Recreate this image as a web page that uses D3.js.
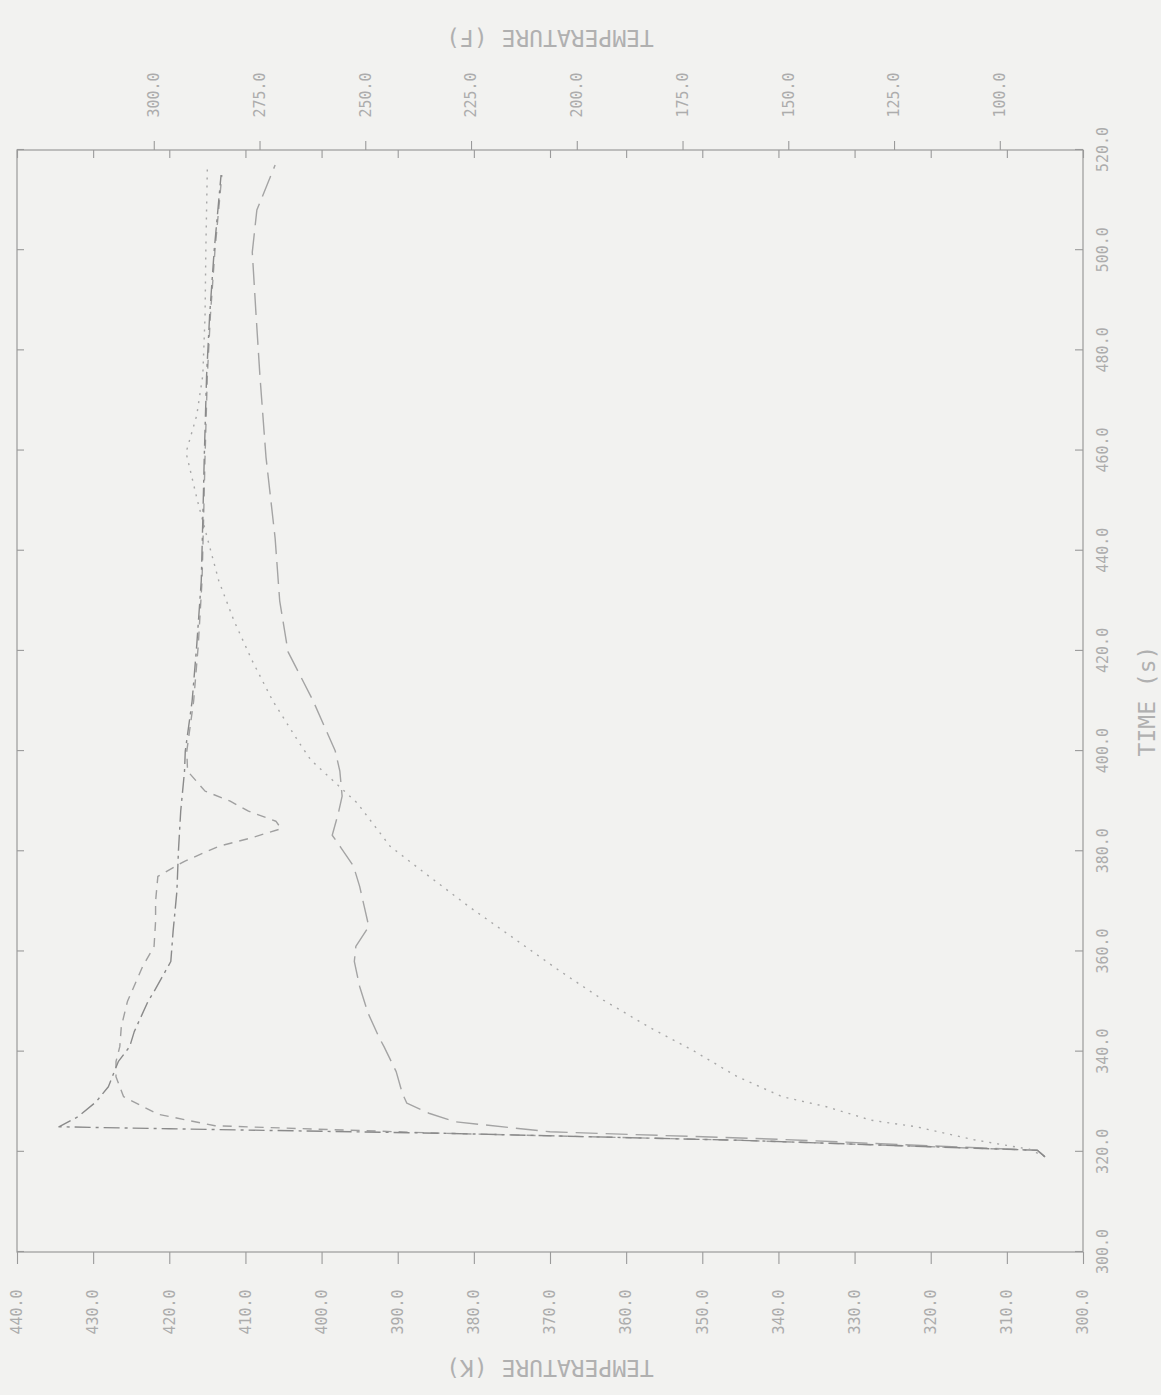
<!DOCTYPE html>
<html>
<head>
<meta charset="utf-8">
<script src="https://cdn.jsdelivr.net/npm/d3@7"></script>
<style>
html, body { margin: 0; padding: 0; background: #f2f2f0; }
svg { display: block; }
.axis text { font-family: "DejaVu Sans Mono", monospace; font-size: 15px; fill: #acacac; }
.axis line { stroke: #9a9a9a; stroke-width: 1.1; }
.axis path { display: none; }
.title { font-family: "DejaVu Sans Mono", monospace; font-size: 23px; fill: #b0b0b0; }
.frame { fill: none; stroke: #9a9a9a; stroke-width: 1.2; }
.series { fill: none; stroke-width: 1.4; stroke-linejoin: round; }
</style>
</head>
<body>
<div id="chart"></div>
<script>
// tick labels
var timeTicks = [300, 320, 340, 360, 380, 400, 420, 440, 460, 480, 500, 520];
var kelvinTicks = [300, 310, 320, 330, 340, 350, 360, 370, 380, 390, 400, 410, 420, 430, 440];
var fahrenheitTicks = [100, 125, 150, 175, 200, 225, 250, 275, 300];

// dash-dot curve
var dashDotTime = [319, 320.3, 322.3, 323.7, 324.6, 325, 327, 330, 333, 338, 341, 344, 350, 352, 358, 364, 372, 380, 388, 396, 400, 410, 421, 434, 446, 459, 475, 487, 500, 515];
var dashDotTemp = [305, 306, 345, 384, 420, 434.5, 432, 429.6, 428, 426.7, 425.2, 424.6, 422.8, 422, 419.8, 419.5, 419, 418.8, 418.5, 418, 417.9, 417, 416.4, 415.8, 415.6, 415.4, 415.1, 414.7, 414.1, 413.2];

// short dashed curve
var dashTime = [319, 320.3, 322.3, 323.7, 325.2, 327.5, 331, 335, 338, 341, 345, 350, 357, 361, 366, 370, 375, 378, 381, 382.6, 384.5, 386, 388, 390, 392, 396, 400, 410, 421, 434, 446, 459, 475, 487, 500, 515];
var dashTemp = [305, 306, 345, 384, 414, 421.5, 426, 427, 427, 426.5, 426.3, 425.5, 423.5, 422, 421.8, 421.8, 421.5, 418, 413.5, 409.4, 405.3, 406, 409.6, 412, 415.3, 417.6, 417.7, 416.8, 416.2, 415.7, 415.5, 415.3, 415, 414.6, 414, 413.1];

// long dashed curve
var longDashTime = [319, 320.3, 322.5, 324, 326, 327.7, 329.7, 331.7, 336, 341, 343, 347.7, 353, 358, 361, 365, 369, 373, 377, 380.6, 383.2, 387.6, 391, 396, 400, 410, 419.8, 430, 442.5, 458.7, 475, 487, 499.6, 508, 517];
var longDashTemp = [305, 306, 340, 370, 382.5, 385.9, 388.8, 389.4, 390.2, 391.8, 392.5, 393.9, 395, 395.7, 395.5, 393.8, 394.4, 395, 395.8, 397.4, 398.6, 397.8, 397.3, 397.6, 398.2, 401.1, 404.4, 405.5, 406.1, 407.3, 408.1, 408.6, 409.1, 408.5, 406.1];

// dotted curve
var dotTime = [319, 320.5, 322.4, 325, 326.3, 329, 331, 335, 340.3, 345, 350.3, 356.3, 362.9, 368.9, 375.6, 381, 389.6, 398.2, 401.8, 410, 418, 426, 434, 442.5, 450, 459.6, 467, 475, 487, 500, 516.6];
var dotTemp = [305, 307, 314.3, 321.9, 327.8, 333.7, 339.5, 345.4, 351.3, 357.1, 363, 368.9, 375, 380.6, 386.4, 391, 395.3, 401.4, 403, 406.4, 409.1, 411.5, 413.5, 415, 416.3, 417.8, 416.4, 415.6, 415.3, 415.2, 415];

var fullWidth = 1161, fullHeight = 1395;

// the plot is drawn upright and then turned a quarter turn counter-clockwise
var plotLeft = 17, plotBottom = 1252;
var width = 1102,   // time axis length
    height = 1066;  // temperature axis length

var svg = d3.select("#chart")
    .append("svg")
    .attr("width", fullWidth)
    .attr("height", fullHeight);

svg.append("rect")
    .attr("width", fullWidth)
    .attr("height", fullHeight)
    .attr("fill", "#f2f2f0");

var g = svg.append("g")
    .attr("transform", "translate(" + plotLeft + "," + plotBottom + ") rotate(-90)");

var xScale = d3.scaleLinear().domain([300, 520]).range([0, width]);
var yScale = d3.scaleLinear().domain([300, 440]).range([height, 0]);

function kToF(k) { return (k - 273.15) * 9 / 5 + 32; }
var yScaleF = d3.scaleLinear().domain([kToF(300), kToF(440)]).range([height, 0]);

var fmt = d3.format(".1f");

g.append("rect")
    .attr("class", "frame")
    .attr("width", width)
    .attr("height", height);

// time axis (with labels) and its inside mirror
g.append("g")
    .attr("class", "axis")
    .attr("transform", "translate(0," + height + ")")
    .call(d3.axisBottom(xScale).tickValues(timeTicks).tickFormat(fmt)
        .tickSizeInner(-8).tickSizeOuter(0).tickPadding(14));

g.append("g")
    .attr("class", "axis")
    .call(d3.axisTop(xScale).tickValues(timeTicks).tickFormat("")
        .tickSizeInner(-7).tickSizeOuter(0));

// kelvin axis
var kAxis = g.append("g")
    .attr("class", "axis")
    .call(d3.axisLeft(yScale).tickValues(kelvinTicks).tickFormat(fmt)
        .tickSizeInner(12).tickSizeOuter(0));
kAxis.selectAll("text")
    .attr("x", -60)
    .attr("dy", "0.32em")
    .attr("text-anchor", "middle");

g.append("g")
    .attr("class", "axis")
    .attr("transform", "translate(" + width + ",0)")
    .call(d3.axisRight(yScale).tickValues(kelvinTicks).tickFormat("")
        .tickSizeInner(-8).tickSizeOuter(0));

// fahrenheit axis
var fAxis = g.append("g")
    .attr("class", "axis")
    .attr("transform", "translate(" + width + ",0)")
    .call(d3.axisRight(yScaleF).tickValues(fahrenheitTicks).tickFormat(fmt)
        .tickSizeInner(9).tickSizeOuter(0));
fAxis.selectAll("text")
    .attr("x", 55)
    .attr("dy", "0.32em")
    .attr("text-anchor", "middle");

// titles
g.append("text")
    .attr("class", "title")
    .attr("x", width / 2)
    .attr("y", height + 64)
    .attr("text-anchor", "middle")
    .attr("dominant-baseline", "central")
    .text("TIME (s)");

g.append("text")
    .attr("class", "title")
    .attr("transform", "translate(-116," + (height / 2) + ") rotate(-90)")
    .attr("text-anchor", "middle")
    .attr("dominant-baseline", "central")
    .text("TEMPERATURE (K)");

g.append("text")
    .attr("class", "title")
    .attr("transform", "translate(" + (width + 112) + "," + (height / 2) + ") rotate(-90)")
    .attr("text-anchor", "middle")
    .attr("dominant-baseline", "central")
    .text("TEMPERATURE (F)");

// curves
var line = d3.line()
    .x(function(d) { return xScale(d[0]); })
    .y(function(d) { return yScale(d[1]); });

var series = [
    {t: longDashTime, k: longDashTemp, dash: "22,8", color: "#a4a4a4"},
    {t: dotTime, k: dotTemp, dash: "2,6", color: "#a8a8a8"},
    {t: dashTime, k: dashTemp, dash: "9,7", color: "#a0a0a0"},
    {t: dashDotTime, k: dashDotTemp, dash: "16,5,3,5", color: "#8a8a8a"}
];

g.selectAll(".series")
    .data(series)
    .enter()
    .append("path")
    .attr("class", "series")
    .attr("stroke", function(s) { return s.color; })
    .attr("stroke-dasharray", function(s) { return s.dash; })
    .attr("d", function(s) { return line(d3.zip(s.t, s.k)); });
</script>
</body>
</html>
